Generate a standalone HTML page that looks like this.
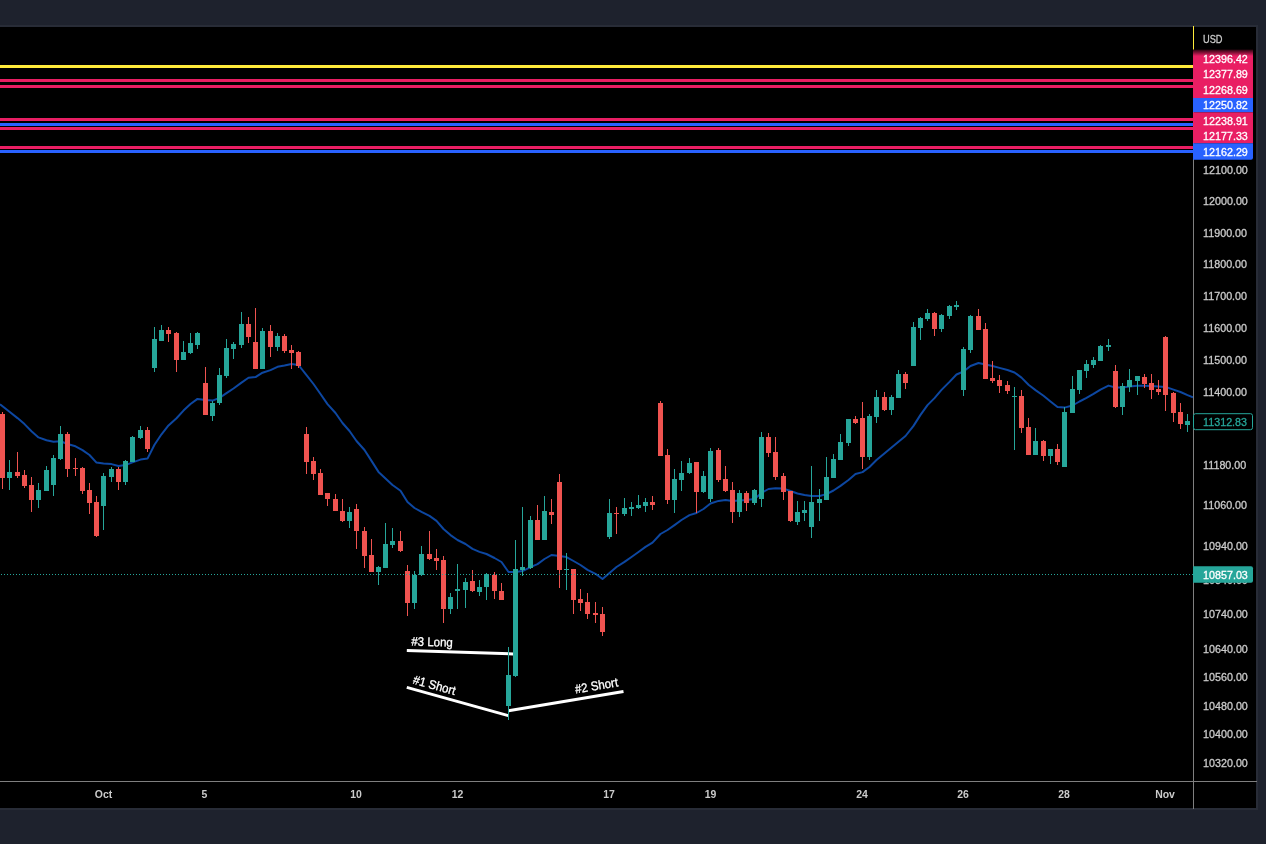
<!DOCTYPE html>
<html lang="en">
<head>
<meta charset="utf-8">
<title>Chart</title>
<style>
html,body{margin:0;padding:0;background:#1e222d;}
body{width:1266px;height:844px;overflow:hidden;position:relative;font-family:'Liberation Sans', sans-serif;}
svg{position:absolute;left:0;top:0;display:block;}
text{font-family:'Liberation Sans', sans-serif;font-size:11px;}
.ax text{fill:#cbcbcb;stroke:#cbcbcb;stroke-width:0.3px;}
.lv text{fill:#fff;stroke:#fff;stroke-width:0.3px;}
.tm text{fill:#cbcbcb;font-weight:bold;}
.an text{fill:#fff;font-size:12.5px;stroke:#fff;stroke-width:0.3px;}
</style>
</head>
<body>
<svg width="1266" height="844" viewBox="0 0 1266 844">
<defs>
<linearGradient id="lg" x1="0" y1="0" x2="0" y2="1"><stop offset="0" stop-color="#26050f"/><stop offset="1" stop-color="#e91e63"/></linearGradient>
<clipPath id="cp"><rect x="0" y="27" width="1193" height="754"/></clipPath>
</defs>
<rect x="0" y="25" width="1258" height="785" fill="#282c37"/>
<rect x="0" y="27" width="1256" height="781" fill="#000"/>
<g shape-rendering="crispEdges">
<rect x="0" y="65" width="1193" height="3" fill="#ffeb3b"/><rect x="0" y="79" width="1193" height="3" fill="#e91e63"/><rect x="0" y="85" width="1193" height="3" fill="#e91e63"/><rect x="0" y="118" width="1193" height="3" fill="#e91e63"/><rect x="0" y="123" width="1193" height="3" fill="#2962ff"/><rect x="0" y="127" width="1193" height="3" fill="#e91e63"/><rect x="0" y="146" width="1193" height="3" fill="#e91e63"/><rect x="0" y="150" width="1193" height="3" fill="#2962ff"/>
</g>
<g clip-path="url(#cp)">
<path d="M0.0 404.2 L9.5 411.8 L17.5 418.1 L24.5 424.1 L31.5 431.3 L38.5 437.4 L46.5 440.2 L53.5 441.8 L60.5 441.2 L67.5 444.0 L75.5 446.3 L82.5 450.1 L89.5 455.0 L96.5 462.6 L103.5 463.6 L111.5 464.1 L118.5 466.0 L125.5 465.1 L132.5 462.4 L140.5 459.6 L147.5 458.6 L154.5 444.8 L161.5 434.3 L168.5 425.4 L176.5 418.2 L183.5 410.6 L190.5 404.0 L197.5 398.9 L205.5 400.0 L212.5 400.6 L219.5 397.9 L226.5 393.2 L233.5 388.5 L241.5 382.6 L248.5 377.8 L255.5 377.1 L262.5 372.7 L270.5 370.1 L277.5 366.8 L284.5 365.5 L291.5 364.0 L298.5 365.0 L306.5 375.1 L313.5 384.0 L320.5 394.0 L327.5 404.1 L335.5 413.0 L342.5 423.0 L349.5 431.0 L356.5 441.0 L364.5 450.0 L371.5 460.9 L378.5 471.9 L385.5 478.4 L392.5 485.0 L400.5 490.7 L407.5 502.1 L414.5 508.0 L421.5 511.9 L429.5 515.9 L436.5 520.9 L443.5 529.0 L450.5 535.1 L457.5 540.0 L465.5 544.0 L472.5 548.9 L479.5 551.9 L486.5 554.0 L494.5 558.0 L501.5 562.0 L508.5 572.0 L515.5 572.0 L522.5 571.1 L530.5 567.1 L537.5 564.1 L544.5 559.0 L551.5 555.0 L559.5 555.9 L566.5 557.1 L573.5 561.0 L580.5 565.0 L587.5 569.9 L595.5 573.8 L602.5 579.0 L609.5 572.9 L616.5 567.0 L624.5 561.9 L631.5 557.0 L638.5 552.0 L645.5 546.9 L652.5 542.6 L660.5 534.0 L667.5 530.0 L674.5 525.1 L681.5 520.0 L689.5 515.1 L696.5 513.0 L703.5 509.0 L710.5 503.5 L718.5 500.9 L725.5 500.0 L732.5 500.9 L739.5 500.5 L746.5 500.0 L754.5 499.0 L761.5 492.9 L768.5 489.0 L775.5 488.2 L783.5 488.6 L790.5 491.0 L797.5 493.5 L804.5 495.0 L811.5 496.0 L819.5 496.0 L826.5 494.1 L833.5 490.5 L840.5 485.9 L848.5 480.0 L855.5 474.0 L862.5 472.1 L869.5 467.0 L876.5 460.0 L898.5 441.8 L905.5 436.0 L913.5 425.9 L920.5 414.9 L927.5 405.1 L934.5 398.1 L941.5 389.9 L949.5 381.9 L956.5 374.5 L963.5 371.5 L970.5 366.0 L978.5 363.0 L985.5 364.5 L992.5 366.0 L999.5 367.9 L1007.5 370.0 L1014.5 372.5 L1021.5 377.6 L1028.5 384.7 L1035.5 390.1 L1043.5 395.8 L1050.5 401.5 L1057.5 407.0 L1064.5 407.6 L1072.5 405.5 L1079.5 401.5 L1086.5 397.9 L1093.5 393.9 L1100.5 389.6 L1108.5 385.6 L1115.5 387.5 L1122.5 387.5 L1129.5 386.5 L1137.5 385.8 L1144.5 385.8 L1151.5 386.0 L1158.5 386.4 L1165.5 386.9 L1173.5 389.6 L1180.5 392.0 L1187.5 395.1 L1193.0 397.3" fill="none" stroke="#0d47a1" stroke-width="2" stroke-linejoin="round" stroke-linecap="butt"/>
<g class="an"><g transform="translate(406.8,650.6) rotate(1.78)"><rect x="0" y="-1.5" width="106.5" height="3" fill="#fff"/><text x="4.2" y="-5.3" textLength="41.57" lengthAdjust="spacingAndGlyphs">#3 Long</text></g><g transform="translate(406.8,687.4) rotate(15.53)"><rect x="0" y="-1.5" width="105.3" height="3" fill="#fff"/><text x="4.3" y="-5.3" textLength="43.47" lengthAdjust="spacingAndGlyphs">#1 Short</text></g><g transform="translate(508.5,710.8) rotate(-9.53)"><rect x="0" y="-1.5" width="116.6" height="3" fill="#fff"/><text x="112.6" y="-6" textLength="43.47" lengthAdjust="spacingAndGlyphs" text-anchor="end">#2 Short</text></g></g>
<g shape-rendering="crispEdges"><path fill="#26a69a" d="M9 460h1v30h-1zM38 483h1v25h-1zM46 466h1v25h-1zM53 455h1v41h-1zM60 426h1v34h-1zM103 473h1v57h-1zM111 467h1v15h-1zM125 460h1v25h-1zM132 436h1v26h-1zM140 426h1v13h-1zM154 327h1v45h-1zM161 325h1v16h-1zM183 341h1v19h-1zM190 333h1v21h-1zM197 332h1v17h-1zM212 401h1v20h-1zM219 368h1v37h-1zM226 339h1v39h-1zM233 342h1v17h-1zM241 312h1v36h-1zM262 328h1v41h-1zM277 333h1v18h-1zM349 507h1v21h-1zM378 566h1v19h-1zM385 523h1v45h-1zM392 528h1v20h-1zM414 571h1v38h-1zM421 546h1v30h-1zM450 593h1v21h-1zM457 564h1v45h-1zM465 578h1v30h-1zM479 580h1v16h-1zM486 573h1v27h-1zM508 647h1v73h-1zM515 540h1v137h-1zM522 507h1v69h-1zM530 516h1v53h-1zM544 496h1v44h-1zM566 553h1v37h-1zM609 499h1v40h-1zM624 498h1v18h-1zM631 502h1v14h-1zM638 495h1v14h-1zM645 498h1v14h-1zM674 469h1v44h-1zM681 461h1v30h-1zM689 458h1v16h-1zM703 471h1v22h-1zM710 448h1v54h-1zM739 490h1v27h-1zM754 489h1v16h-1zM761 432h1v75h-1zM797 501h1v24h-1zM804 501h1v20h-1zM811 466h1v72h-1zM819 489h1v32h-1zM826 457h1v43h-1zM833 454h1v24h-1zM840 434h1v26h-1zM848 419h1v27h-1zM869 414h1v46h-1zM876 390h1v33h-1zM891 395h1v20h-1zM898 370h1v28h-1zM913 322h1v44h-1zM920 317h1v23h-1zM927 309h1v12h-1zM941 314h1v18h-1zM949 305h1v14h-1zM956 301h1v9h-1zM963 347h1v49h-1zM970 315h1v38h-1zM1014 387h1v63h-1zM1035 428h1v27h-1zM1050 449h1v15h-1zM1064 407h1v60h-1zM1072 376h1v37h-1zM1079 370h1v24h-1zM1086 360h1v18h-1zM1093 357h1v11h-1zM1100 345h1v16h-1zM1108 339h1v12h-1zM1122 383h1v32h-1zM1129 369h1v23h-1zM1137 376h1v19h-1zM1187 414h1v18h-1zM7 472h5v6h-5zM36 490h5v10h-5zM44 470h5v21h-5zM51 458h5v27h-5zM58 434h5v25h-5zM101 476h5v30h-5zM109 469h5v8h-5zM123 461h5v21h-5zM130 437h5v25h-5zM138 430h5v8h-5zM152 339h5v29h-5zM159 330h5v11h-5zM181 352h5v8h-5zM188 343h5v10h-5zM195 333h5v12h-5zM210 403h5v13h-5zM217 375h5v28h-5zM224 348h5v28h-5zM231 344h5v5h-5zM239 324h5v21h-5zM260 331h5v38h-5zM275 336h5v11h-5zM347 512h5v9h-5zM376 567h5v5h-5zM383 544h5v24h-5zM390 541h5v4h-5zM412 575h5v28h-5zM419 554h5v21h-5zM448 597h5v12h-5zM455 589h5v2h-5zM463 582h5v8h-5zM477 587h5v5h-5zM484 574h5v13h-5zM506 675h5v31h-5zM513 569h5v107h-5zM520 567h5v3h-5zM528 520h5v48h-5zM542 511h5v29h-5zM564 569h5v1h-5zM607 513h5v24h-5zM622 508h5v6h-5zM629 507h5v2h-5zM636 505h5v3h-5zM643 502h5v4h-5zM672 479h5v21h-5zM679 473h5v7h-5zM687 463h5v10h-5zM701 476h5v16h-5zM708 451h5v48h-5zM737 493h5v19h-5zM752 490h5v13h-5zM759 437h5v62h-5zM795 512h5v10h-5zM802 510h5v3h-5zM809 502h5v25h-5zM817 499h5v4h-5zM824 477h5v23h-5zM831 459h5v19h-5zM838 442h5v18h-5zM846 419h5v24h-5zM867 416h5v41h-5zM874 397h5v20h-5zM889 397h5v13h-5zM896 374h5v24h-5zM911 327h5v39h-5zM918 318h5v10h-5zM925 313h5v6h-5zM939 315h5v14h-5zM947 306h5v10h-5zM954 305h5v2h-5zM961 349h5v41h-5zM968 316h5v34h-5zM1012 396h5v1h-5zM1033 441h5v14h-5zM1048 449h5v7h-5zM1062 412h5v55h-5zM1070 389h5v24h-5zM1077 370h5v20h-5zM1084 364h5v7h-5zM1091 360h5v5h-5zM1098 346h5v15h-5zM1106 345h5v2h-5zM1120 386h5v21h-5zM1127 380h5v7h-5zM1135 376h5v5h-5zM1185 421h5v4h-5z"/><path fill="#ef5350" d="M2 412h1v77h-1zM17 452h1v26h-1zM24 470h1v18h-1zM31 477h1v35h-1zM67 432h1v45h-1zM75 458h1v18h-1zM82 467h1v27h-1zM89 483h1v31h-1zM96 496h1v41h-1zM118 467h1v23h-1zM147 427h1v25h-1zM168 327h1v15h-1zM176 332h1v40h-1zM205 367h1v48h-1zM248 317h1v26h-1zM255 308h1v61h-1zM270 325h1v32h-1zM284 334h1v19h-1zM291 345h1v24h-1zM298 351h1v17h-1zM306 427h1v47h-1zM313 457h1v23h-1zM320 469h1v26h-1zM327 493h1v13h-1zM335 494h1v17h-1zM342 499h1v23h-1zM356 504h1v45h-1zM364 527h1v41h-1zM371 539h1v33h-1zM400 531h1v21h-1zM407 565h1v51h-1zM429 531h1v29h-1zM436 549h1v21h-1zM443 556h1v67h-1zM472 570h1v22h-1zM494 572h1v27h-1zM501 583h1v17h-1zM537 505h1v35h-1zM551 499h1v25h-1zM559 474h1v114h-1zM573 569h1v45h-1zM580 589h1v22h-1zM587 593h1v26h-1zM595 602h1v21h-1zM602 607h1v29h-1zM616 507h1v27h-1zM652 496h1v14h-1zM660 401h1v55h-1zM667 449h1v55h-1zM696 462h1v51h-1zM718 448h1v34h-1zM725 466h1v26h-1zM732 482h1v41h-1zM746 491h1v20h-1zM768 433h1v24h-1zM775 437h1v43h-1zM783 473h1v27h-1zM790 491h1v31h-1zM855 416h1v8h-1zM862 402h1v67h-1zM884 392h1v19h-1zM905 372h1v17h-1zM934 312h1v24h-1zM978 309h1v21h-1zM985 323h1v56h-1zM992 361h1v22h-1zM999 375h1v18h-1zM1007 381h1v13h-1zM1021 390h1v43h-1zM1028 418h1v37h-1zM1043 440h1v21h-1zM1057 444h1v21h-1zM1115 365h1v43h-1zM1144 374h1v14h-1zM1151 374h1v25h-1zM1158 380h1v15h-1zM1165 336h1v75h-1zM1173 392h1v30h-1zM1180 403h1v26h-1zM0 414h5v64h-5zM15 472h5v4h-5zM22 475h5v11h-5zM29 485h5v15h-5zM65 434h5v35h-5zM73 468h5v1h-5zM80 468h5v23h-5zM87 490h5v13h-5zM94 502h5v34h-5zM116 469h5v13h-5zM145 430h5v19h-5zM166 330h5v4h-5zM174 333h5v27h-5zM203 383h5v32h-5zM246 324h5v13h-5zM253 342h5v27h-5zM268 331h5v16h-5zM282 336h5v15h-5zM289 350h5v3h-5zM296 352h5v14h-5zM304 434h5v28h-5zM311 461h5v13h-5zM318 473h5v22h-5zM325 493h5v6h-5zM333 499h5v12h-5zM340 511h5v10h-5zM354 509h5v22h-5zM362 531h5v25h-5zM369 555h5v17h-5zM398 541h5v10h-5zM405 571h5v32h-5zM427 554h5v5h-5zM434 558h5v3h-5zM441 560h5v49h-5zM470 581h5v10h-5zM492 575h5v16h-5zM499 591h5v9h-5zM535 520h5v20h-5zM549 512h5v3h-5zM557 482h5v88h-5zM571 569h5v31h-5zM578 599h5v4h-5zM585 602h5v12h-5zM593 613h5v2h-5zM600 614h5v18h-5zM614 513h5v1h-5zM650 502h5v3h-5zM658 403h5v53h-5zM665 455h5v45h-5zM694 462h5v30h-5zM716 450h5v30h-5zM723 479h5v12h-5zM730 490h5v22h-5zM744 493h5v10h-5zM766 437h5v16h-5zM773 452h5v25h-5zM781 476h5v16h-5zM788 491h5v30h-5zM853 419h5v4h-5zM860 418h5v39h-5zM882 397h5v13h-5zM903 374h5v9h-5zM932 313h5v16h-5zM976 316h5v14h-5zM983 329h5v50h-5zM990 378h5v3h-5zM997 380h5v6h-5zM1005 385h5v6h-5zM1019 396h5v32h-5zM1026 427h5v28h-5zM1041 441h5v15h-5zM1055 449h5v13h-5zM1113 371h5v36h-5zM1142 377h5v7h-5zM1149 383h5v7h-5zM1156 389h5v3h-5zM1163 337h5v58h-5zM1171 393h5v20h-5zM1178 412h5v12h-5z"/></g>
</g>
<path d="M1 574.5H1193" stroke="#26a69a" stroke-width="1" stroke-dasharray="1 2" shape-rendering="crispEdges"/>
<g shape-rendering="crispEdges">
<rect x="1193" y="27" width="1" height="782" fill="#7f7f7f"/>
<rect x="0" y="781" width="1257" height="1" fill="#7f7f7f"/>
<rect x="1193" y="26" width="1" height="24" fill="#ffeb3b"/>
</g>
<g class="ax"><text x="1203.0" y="43" textLength="19.51" lengthAdjust="spacingAndGlyphs">USD</text><text x="1203.1" y="174" textLength="44.73" lengthAdjust="spacingAndGlyphs">12100.00</text><text x="1203.1" y="205" textLength="44.73" lengthAdjust="spacingAndGlyphs">12000.00</text><text x="1203.1" y="237" textLength="43.93" lengthAdjust="spacingAndGlyphs">11900.00</text><text x="1203.1" y="268" textLength="43.93" lengthAdjust="spacingAndGlyphs">11800.00</text><text x="1203.1" y="300" textLength="43.93" lengthAdjust="spacingAndGlyphs">11700.00</text><text x="1203.1" y="332" textLength="43.93" lengthAdjust="spacingAndGlyphs">11600.00</text><text x="1203.1" y="364" textLength="43.93" lengthAdjust="spacingAndGlyphs">11500.00</text><text x="1203.1" y="396" textLength="43.93" lengthAdjust="spacingAndGlyphs">11400.00</text><text x="1203.1" y="469" textLength="43.14" lengthAdjust="spacingAndGlyphs">11180.00</text><text x="1203.1" y="509" textLength="43.93" lengthAdjust="spacingAndGlyphs">11060.00</text><text x="1203.1" y="550" textLength="44.73" lengthAdjust="spacingAndGlyphs">10940.00</text><text x="1203.1" y="584" textLength="44.73" lengthAdjust="spacingAndGlyphs">10840.00</text><text x="1203.1" y="618" textLength="44.73" lengthAdjust="spacingAndGlyphs">10740.00</text><text x="1203.1" y="653" textLength="44.73" lengthAdjust="spacingAndGlyphs">10640.00</text><text x="1203.1" y="681" textLength="44.73" lengthAdjust="spacingAndGlyphs">10560.00</text><text x="1203.1" y="710" textLength="44.73" lengthAdjust="spacingAndGlyphs">10480.00</text><text x="1203.1" y="738" textLength="44.73" lengthAdjust="spacingAndGlyphs">10400.00</text><text x="1203.1" y="767" textLength="44.73" lengthAdjust="spacingAndGlyphs">10320.00</text></g>
<rect x="1193" y="50" width="60" height="48" fill="#e91e63"/>
<rect x="1193" y="49.5" width="60" height="6.5" fill="url(#lg)"/>
<rect x="1193" y="98" width="60" height="14.3" fill="#2962ff"/>
<rect x="1193" y="112.3" width="60" height="31" fill="#e91e63"/>
<path d="M1193 143.3h60v14.5a2 2 0 0 1 -2 2h-58z" fill="#2962ff"/>
<g class="lv"><text x="1203.1" y="62.8" textLength="44.73" lengthAdjust="spacingAndGlyphs">12396.42</text><text x="1203.1" y="78" textLength="44.73" lengthAdjust="spacingAndGlyphs">12377.89</text><text x="1203.1" y="93.6" textLength="44.73" lengthAdjust="spacingAndGlyphs">12268.69</text><text x="1203.1" y="109.1" textLength="44.73" lengthAdjust="spacingAndGlyphs">12250.82</text><text x="1203.1" y="124.6" textLength="44.73" lengthAdjust="spacingAndGlyphs">12238.91</text><text x="1203.1" y="140.1" textLength="44.73" lengthAdjust="spacingAndGlyphs">12177.33</text><text x="1203.1" y="155.7" textLength="44.73" lengthAdjust="spacingAndGlyphs">12162.29</text></g>
<rect x="1193.5" y="413.7" width="59" height="16" rx="2" fill="#000" stroke="#26a69a" stroke-width="1"/>
<g class="lv" style="--c:#26a69a"><text x="1203.1" y="425.6" textLength="43.93" lengthAdjust="spacingAndGlyphs" style="fill:#26a69a;stroke:#26a69a">11312.83</text></g>
<path d="M1193 566.2h58a2 2 0 0 1 2 2v12.6a2 2 0 0 1 -2 2h-58z" fill="#26a69a"/>
<g class="lv"><text x="1203.1" y="578.8" textLength="44.73" lengthAdjust="spacingAndGlyphs">10857.03</text></g>
<g class="tm"><text x="103.5" y="798" textLength="17.42" lengthAdjust="spacingAndGlyphs" text-anchor="middle">Oct</text><text x="204.5" y="798" textLength="5.81" lengthAdjust="spacingAndGlyphs" text-anchor="middle">5</text><text x="356" y="798" textLength="11.62" lengthAdjust="spacingAndGlyphs" text-anchor="middle">10</text><text x="457.5" y="798" textLength="11.62" lengthAdjust="spacingAndGlyphs" text-anchor="middle">12</text><text x="609" y="798" textLength="11.62" lengthAdjust="spacingAndGlyphs" text-anchor="middle">17</text><text x="710.5" y="798" textLength="11.62" lengthAdjust="spacingAndGlyphs" text-anchor="middle">19</text><text x="862" y="798" textLength="11.62" lengthAdjust="spacingAndGlyphs" text-anchor="middle">24</text><text x="963" y="798" textLength="11.62" lengthAdjust="spacingAndGlyphs" text-anchor="middle">26</text><text x="1064" y="798" textLength="11.62" lengthAdjust="spacingAndGlyphs" text-anchor="middle">28</text><text x="1165" y="798" textLength="19.74" lengthAdjust="spacingAndGlyphs" text-anchor="middle">Nov</text></g>
</svg>
</body>
</html>
